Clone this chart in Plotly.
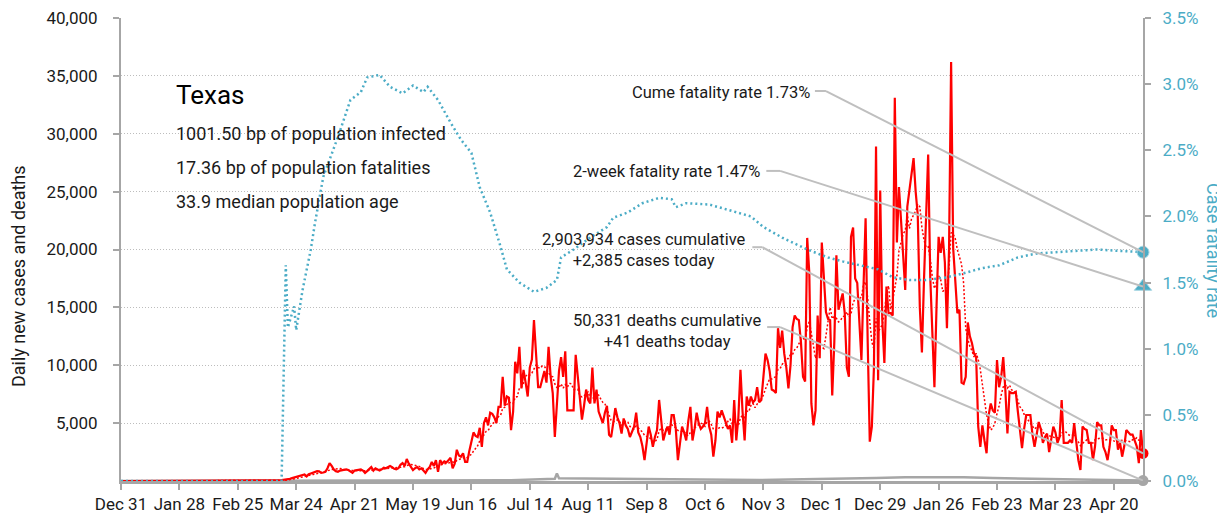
import pandas as pd
import plotly.graph_objects as go

# ---------------- data ----------------
series_start = "2019-12-31"
lead_zero_days = 61          # Dec 31 2019 .. Feb 29 2020: no cases reported

# daily new cases, one row per week starting Mar 1 2020
cases_from_mar1 = [
    0, 0, 0, 0, 1, 2, 5,
    3, 4, 10, 12, 20, 30, 40,
    50, 60, 80, 100, 140, 170, 190,
    250, 300, 370, 420, 500, 520, 560,
    400, 580, 650, 720, 800, 850, 830,
    700, 730, 800, 1100, 1550, 1300, 1000,
    850, 800, 900, 950, 1000, 1000, 950,
    780, 700, 900, 950, 1000, 1000, 900,
    700, 850, 1000, 1200, 900, 1100, 1000,
    900, 1000, 1150, 1100, 1200, 1300, 1200,
    1050, 1000, 1100, 1400, 1550, 1300, 1900,
    1500, 1200, 950, 1100, 1200, 1000, 1100,
    900, 700, 1000, 1200, 1650, 1300, 1800,
    800, 1800, 1500, 1700, 1600, 1800, 2000,
    1100, 1500, 2700, 2200, 2100, 2400, 1650,
    1650, 2600, 3500, 4200, 3900, 3800, 4600,
    2950, 5000, 5500, 4800, 5900, 5800, 5500,
    5000, 6400, 6400, 9000, 6500, 7300, 7200,
    4400, 6000, 10300, 9300, 11600, 8000, 9600,
    8500, 7300, 9800, 10500, 13900, 10500, 8100,
    8100, 8700, 9500, 8500, 11600, 9000, 7600,
    3800, 6500, 9500, 10700, 9000, 11200, 6100,
    6100, 6100, 6100, 10900, 9000, 7300, 5300,
    6500, 7900, 7000, 6700, 9800, 6700, 7900,
    6000, 5500, 5000, 5900, 6500, 4000, 3800,
    5000, 6300, 5500, 5000, 4100, 5400, 4800,
    4500, 3800, 4200, 4700, 5900, 4200, 3800,
    3000, 1800, 3500, 4700, 4000, 2950, 3800,
    4400, 7000, 5000, 3500, 4200, 4700, 4000,
    5700, 5700, 4500, 1800, 3500, 4700, 4200,
    3500, 5200, 6400, 3500, 4500, 5900, 5000,
    4500, 4700, 5000, 6400, 4700, 4000, 2100,
    3500, 6000, 5500, 6100, 5500, 5000, 4500,
    4800, 3300, 7000, 3500, 5500, 9600, 6000,
    3500, 7300, 6500, 7300, 6800, 7000, 8100,
    6800, 7000, 9000, 11000, 10450, 9500, 7900,
    7800, 7600, 13200, 11500, 13000, 11000, 9800,
    8000, 10000, 13300, 14300, 14000, 13900, 12000,
    9000, 8600, 21000, 18000, 6700, 4800, 6100,
    14300, 10600, 20600, 17000, 14600, 14000, 13900,
    7400, 12000, 19500, 14800, 15500, 16200, 14500,
    9800, 9000, 21100, 21900, 17500, 17100, 14000,
    10450, 16800, 22700, 12000, 3400, 4700, 9800,
    28900, 8700, 25100, 13900, 10200, 16800, 14500,
    14500, 14300, 33100, 20600, 25400, 22500, 19000,
    16500, 23700, 25000, 26300, 27900, 25000, 23000,
    15000, 11100, 17400, 22000, 28200, 17600, 12000,
    8100, 15000, 21100, 19700, 21100, 18900, 13200,
    20000, 36200, 20100, 17000, 14500, 14800, 8500,
    8400, 9000, 13700, 12500, 11900, 11000, 10700,
    4700, 2950, 4800, 3500, 2400, 5700, 6700,
    6100, 5900, 10450, 8100, 9000, 10700, 7900,
    4100, 7700, 7600, 7600, 7700, 6000, 4100,
    2850, 4500, 5700, 5700, 5700, 4000, 2950,
    4000, 5100, 4500, 3300, 3800, 4100, 2500,
    3500, 4700, 4200, 3300, 3800, 7000, 3300,
    3300, 3300, 3500, 3300, 5000, 3500, 1800,
    950, 4700, 4500, 4400, 3300, 3300, 1800,
    3000, 5100, 4800, 4800, 2950, 2500, 1800,
    3000, 4800, 4400, 4400, 2700, 3300, 2100,
    3000, 4400, 4200, 4000, 4000, 3500, 3000,
    1550, 4400, 2385,
]

# daily deaths, sampled weekly (plus the late-July reporting spike)
deaths_dates = [
    "2019-12-31", "2020-03-15", "2020-03-29", "2020-04-12", "2020-04-26", "2020-05-10",
    "2020-05-24", "2020-06-07", "2020-06-21", "2020-07-05", "2020-07-19", "2020-07-26",
    "2020-07-27", "2020-07-28", "2020-08-09", "2020-08-23", "2020-09-06", "2020-09-20",
    "2020-10-04", "2020-10-18", "2020-11-01", "2020-11-15", "2020-11-29", "2020-12-13",
    "2020-12-27", "2021-01-10", "2021-01-24", "2021-02-07", "2021-02-21", "2021-03-07",
    "2021-03-21", "2021-04-04", "2021-04-18", "2021-05-04",
]
deaths_values = [
    0, 0, 10, 25, 30, 30,
    25, 25, 30, 60, 160, 200,
    650, 240, 220, 200, 150, 100,
    90, 80, 90, 120, 150, 200,
    250, 330, 360, 330, 250, 200,
    150, 90, 60, 41,
]

# case fatality rate (%)
cfr_dates = [
    "2019-12-31", "2020-03-17", "2020-03-19", "2020-03-20", "2020-03-23", "2020-03-24",
    "2020-03-27", "2020-03-31", "2020-04-02", "2020-04-06", "2020-04-13", "2020-04-19",
    "2020-04-24", "2020-04-27", "2020-05-03", "2020-05-08", "2020-05-14", "2020-05-19",
    "2020-05-24", "2020-05-26", "2020-05-31", "2020-06-06", "2020-06-11", "2020-06-16",
    "2020-06-20", "2020-06-25", "2020-06-30", "2020-07-03", "2020-07-09", "2020-07-16",
    "2020-07-22", "2020-07-27", "2020-07-29", "2020-08-04", "2020-08-12", "2020-08-20",
    "2020-08-23", "2020-08-30", "2020-09-06", "2020-09-14", "2020-09-20", "2020-09-22",
    "2020-09-27", "2020-10-08", "2020-10-17", "2020-10-28", "2020-11-03", "2020-11-12",
    "2020-11-24", "2020-12-04", "2020-12-11", "2020-12-19", "2020-12-28", "2021-01-04",
    "2021-01-12", "2021-01-20", "2021-01-30", "2021-02-07", "2021-02-16", "2021-02-24",
    "2021-03-05", "2021-03-14", "2021-03-25", "2021-04-12", "2021-04-22", "2021-05-04",
]
cfr_values = [
    0.0, 0.0, 1.63, 1.16, 1.32, 1.14,
    1.44, 1.75, 1.95, 2.30, 2.60, 2.88,
    2.94, 3.05, 3.07, 2.98, 2.93, 2.99,
    2.94, 2.98, 2.88, 2.71, 2.58, 2.48,
    2.22, 2.03, 1.77, 1.60, 1.50, 1.43,
    1.46, 1.52, 1.69, 1.75, 1.84, 1.92,
    1.99, 2.03, 2.10, 2.14, 2.13, 2.07,
    2.10, 2.09, 2.05, 2.00, 1.92, 1.84,
    1.75, 1.69, 1.66, 1.63, 1.60, 1.54,
    1.52, 1.52, 1.54, 1.57, 1.61, 1.63,
    1.69, 1.72, 1.73, 1.75, 1.74, 1.73,
]

cfr_ticks = [0.0, 0.5, 1.0, 1.5, 2.0, 2.5, 3.0, 3.5]
cases_ticks = [5000, 10000, 15000, 20000, 25000, 30000, 35000, 40000]

state_name = "Texas"
info_lines = [
    "1001.50 bp of population infected",
    "17.36 bp of population fatalities",
    "33.9 median population age",
]
cume_cfr = 1.73
two_week_cfr = 1.47
cases_cumulative = 2903934
cases_today = 2385
deaths_cumulative = 50331
deaths_today = 41

# ---------------- derived ----------------
daily_cases = [0] * lead_zero_days + cases_from_mar1
dates = pd.date_range(series_start, periods=len(daily_cases), freq="D")
cases_s = pd.Series(daily_cases, index=dates, dtype=float)
avg7 = cases_s.rolling(7, min_periods=1).mean()
last_date = dates[-1]
t0 = pd.Timestamp(series_start)


def day(n):
    return (t0 + pd.Timedelta(days=n)).isoformat()


RED = "#ff0000"
TEAL = "#4bacc6"
GRAY = "#a6a6a6"
CONN = "#bfbfbf"
TXT = "#1a1a1a"
FONT = "Roboto, Liberation Sans, sans-serif"

fig = go.Figure()

fig.add_trace(go.Scatter(
    x=pd.to_datetime(cfr_dates), y=cfr_values, yaxis="y2", mode="lines",
    line=dict(color=TEAL, width=2.5, dash="2px,3px"), hoverinfo="skip"))
fig.add_trace(go.Scatter(
    x=pd.to_datetime(deaths_dates), y=deaths_values, mode="lines",
    line=dict(color=GRAY, width=2.5), hoverinfo="skip"))
fig.add_trace(go.Scatter(
    x=dates, y=daily_cases, mode="lines",
    line=dict(color=RED, width=2.2), hoverinfo="skip"))
fig.add_trace(go.Scatter(
    x=dates, y=avg7, mode="lines",
    line=dict(color=RED, width=1.5, dash="2px,2px"), hoverinfo="skip"))

# end markers
fig.add_trace(go.Scatter(x=[last_date], y=[cume_cfr], yaxis="y2", mode="markers",
                         cliponaxis=False,
                         marker=dict(symbol="circle", size=12, color=TEAL,
                                     line=dict(color="#a5d5e2", width=1))))
fig.add_trace(go.Scatter(x=[last_date], y=[two_week_cfr], yaxis="y2", mode="markers",
                         cliponaxis=False,
                         marker=dict(symbol="triangle-up", size=15, color=TEAL,
                                     line=dict(color="#a5d5e2", width=1))))
fig.add_trace(go.Scatter(x=[last_date], y=[cases_today], mode="markers",
                         cliponaxis=False,
                         marker=dict(symbol="circle", size=11, color=RED)))
fig.add_trace(go.Scatter(x=[last_date], y=[deaths_today], mode="markers",
                         cliponaxis=False,
                         marker=dict(symbol="circle", size=11, color=GRAY)))

# connector lines (horizontal stub then diagonal to the end marker)
shapes = []
conn = [
    # (stub start day, stub end day, level, yref, end value)
    (332.7, 338.0, 2.948, "y2", cume_cfr),
    (309.4, 316.0, 2.344, "y2", two_week_cfr),
    (302.7, 307.5, 20200, "y", cases_today),
    (309.8, 316.0, 13300, "y", deaths_today),
]
for s0, s1, lvl, yr, endv in conn:
    shapes.append(dict(type="line", xref="x", yref=yr, x0=day(s0), x1=day(s1),
                       y0=lvl, y1=lvl, line=dict(color=CONN, width=2), layer="above"))
    shapes.append(dict(type="line", xref="x", yref=yr, x0=day(s1), x1=last_date.isoformat(),
                       y0=lvl, y1=endv, line=dict(color=CONN, width=2), layer="above"))

# the page body adds an 8px offset, so the figure is 8px smaller than the window
OFF = 8
W, H = 1225 - OFF, 520 - OFF
L, R, T, B = 121 - OFF, 82, 18 - OFF, 39
PW, PH = W - L - R, H - T - B


def px(xs):          # screenshot x -> paper x
    return (xs - OFF - L) / PW


def py(ys):          # screenshot y -> paper y
    return (H - B - (ys - OFF)) / PH


annotations = [
    dict(text=state_name, x=px(174), y=py(95), font=dict(size=26, color="#000")),
    dict(text=info_lines[0], x=px(174), y=py(133), font=dict(size=18, color=TXT)),
    dict(text=info_lines[1], x=px(174), y=py(167), font=dict(size=18, color=TXT)),
    dict(text=info_lines[2], x=px(174), y=py(201), font=dict(size=18, color=TXT)),
]
for a in annotations:
    a.update(xref="paper", yref="paper", xanchor="left", yanchor="middle", showarrow=False)

annotations += [
    dict(text=f"Cume fatality rate {cume_cfr:.2f}%", x=px(812), y=py(93)),
    dict(text=f"2-week fatality rate {two_week_cfr:.2f}%", x=px(762), y=py(172)),
    dict(text=f"{cases_cumulative:,} cases cumulative<br>+{cases_today:,} cases today",
         x=px(748), y=py(249.5)),
    dict(text=f"{deaths_cumulative:,} deaths cumulative<br>+{deaths_today:,} deaths today",
         x=px(763), y=py(330.5)),
]
for a in annotations[4:]:
    a.update(xref="paper", yref="paper", xanchor="right", yanchor="middle", align="center",
             showarrow=False, font=dict(size=16.5, color=TXT))

annotations += [
    dict(text="Daily new cases and deaths", x=px(18), y=py(276), textangle=-90,
         xref="paper", yref="paper", xanchor="center", yanchor="middle", showarrow=False,
         font=dict(size=18, color=TXT)),
    dict(text="Case fatality rate", x=px(1214), y=py(250), textangle=90,
         xref="paper", yref="paper", xanchor="center", yanchor="middle", showarrow=False,
         font=dict(size=18, color=TEAL)),
]

fig.update_layout(
    width=W, height=H, margin=dict(l=L, r=R, t=T, b=B, autoexpand=False),
    paper_bgcolor="white", plot_bgcolor="white", showlegend=False,
    font=dict(family=FONT, size=17, color=TXT),
    xaxis=dict(type="date", range=[t0.isoformat(), last_date.isoformat()],
               tick0=series_start, dtick=28 * 86400000, tickformat="%b %-d",
               tickangle=0, ticks="outside", ticklen=6, tickwidth=2, tickcolor=GRAY,
               showline=True, linecolor=GRAY, linewidth=2.5, showgrid=False,
               zeroline=False, automargin=False, ticklabeloverflow="allow",
               tickfont=dict(size=17, color=TXT)),
    yaxis=dict(range=[0, 40000], tickvals=cases_ticks,
               ticktext=[f"{v:,}" for v in cases_ticks],
               ticks="outside", ticklen=6, tickwidth=2, tickcolor=GRAY,
               showline=True, linecolor=GRAY, linewidth=2, showgrid=True,
               gridcolor="#bdbdbd", griddash="1px,2px", gridwidth=1, zeroline=False,
               automargin=False, ticklabeloverflow="allow", ticklabelstandoff=12,
               tickfont=dict(size=17, color=TXT)),
    yaxis2=dict(range=[0, 3.5], overlaying="y", side="right",
                tickvals=cfr_ticks, ticktext=[f"{v:.1f}%" for v in cfr_ticks],
                ticks="outside", ticklen=6, tickwidth=2,
                tickcolor=GRAY, showline=True, linecolor=GRAY, linewidth=2,
                showgrid=False, zeroline=False, automargin=False,
                ticklabeloverflow="allow", ticklabelstandoff=8,
                tickfont=dict(size=17, color=TEAL)),
    shapes=shapes,
    annotations=annotations,
)

fig.write_html("out.html")
